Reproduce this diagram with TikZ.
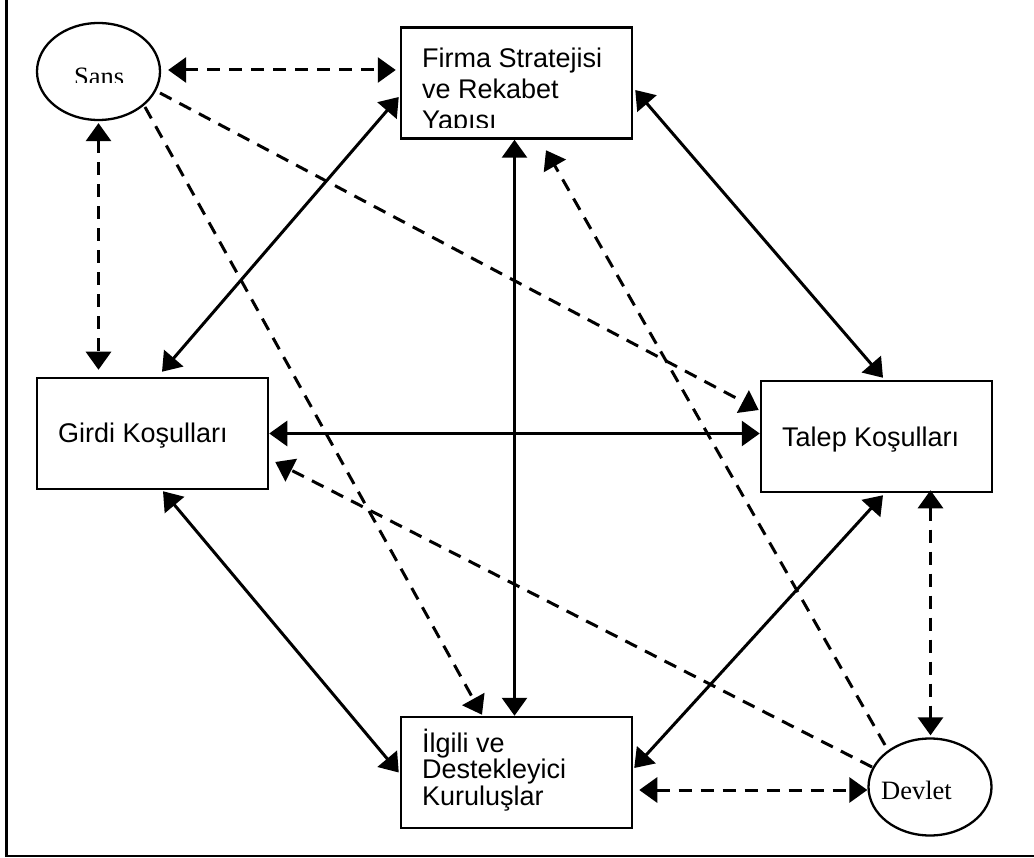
\documentclass[tikz,border=0pt]{standalone}
\usepackage{fontspec}
\usetikzlibrary{arrows.meta,shapes.geometric,calc}
\newfontfamily\arialf{Liberation Sans}
\newfontfamily\timesf{Liberation Serif}

\begin{document}
\begin{tikzpicture}[x=1pt,y=-1pt,
  box/.style={draw,line width=2.5pt,rectangle,minimum width=231pt,minimum height=111pt,inner sep=0pt},
  oval/.style={draw,line width=2.3pt,ellipse,minimum width=123pt,minimum height=97pt,inner sep=0pt},
  boxtext/.style={inner sep=0pt,anchor=base west,font=\arialf\fontsize{27}{31}\selectfont},
  ovaltext/.style={inner sep=0pt,anchor=base west,font=\timesf\fontsize{26.5}{30}\selectfont},
  tip/.tip={Triangle[length=18pt,width=25pt]},
  link/.style={line width=3pt,tip-tip},
  dlink/.style={line width=3pt,dash pattern=on 13pt off 9pt,tip-tip},
  dlinkone/.style={line width=3pt,dash pattern=on 13pt off 9pt,-tip}
]
\useasboundingbox (0,0) rectangle (1034,858);

% page frame
\draw[line width=2.5pt] (6.5,0) -- (6.5,856) -- (1034,856);

% diamond factors
\node[box] (firma)  at (516.5,83)    {};
\node[box] (girdi)  at (152.5,433.5) {};
\node[box] (talep)  at (876.5,436.5) {};
\node[box] (ilgili) at (516.5,772.5) {};

% outside influences
\node[oval] (sans)   at (98.5,71.5) {};
\node[oval] (devlet) at (930,787)   {};

% labels
\begin{scope}
  \clip (0,0) rectangle (1034,83);
  \node[ovaltext] (sanstxt) at (74,85.5) {Sans};
\end{scope}
\node[ovaltext] (devlettxt) at (881,799) {Devlet};

\node[boxtext] (firma1) at (422,68) {Firma Stratejisi};
\node[boxtext] (firma2) at (422,99) {ve Rekabet};
\begin{scope}
  \clip (0,0) rectangle (1034,128);
  \node[boxtext] (firma3) at (422,130) {Yapısı};
\end{scope}

\node[boxtext] (girditxt) at (58,443)  {Girdi Koşulları};
\node[boxtext] (taleptxt) at (782,447) {Talep Koşulları};

\node[boxtext] (ilgili1) at (422,752)   {İlgili ve};
\node[boxtext] (ilgili2) at (422,778.5) {Destekleyici};
\node[boxtext] (ilgili3) at (422,805)   {Kuruluşlar};

% solid links between the four factors
\draw[link] ($(girdi.north)+(9.5,-5)$) -- ($(firma.west)+(-1,14)$);
\draw[link] ($(firma.east)+(2,7)$) -- ($(talep.north)+(6.5,-2)$);
\draw[link] ($(firma.south)+(-2,0)$) -- ($(ilgili.north)+(-2,0)$);
\draw[link] (girdi.east) -- (talep.west |- girdi.east);
\draw[link] ($(girdi.south)+(10.5,1)$) -- ($(ilgili.west)+(-1,0)$);
\draw[link] ($(talep.south)+(6.5,2)$) -- ($(ilgili.east)+(1,-4.5)$);

% dashed links from Sans
\draw[dlink] ($(sans.east)+(7,-1.5)$) -- ($(firma.west)+(-4,-13)$);
\draw[dlink] ($(sans.south)+(0,2)$) -- ($(sans.south |- girdi.north)+(0,-7)$);
\draw[dlinkone] ($(sans.center)+(61.5,21.5)$) -- ($(talep.west)+(-1,-26.5)$);
\draw[dlinkone] ($(sans.center)+(46.5,35.5)$) -- ($(ilgili.north)+(-34.5,-1)$);

% dashed links from Devlet
\draw[dlinkone] ($(devlet.center)+(-58,-20)$) -- ($(girdi.east)+(6,28.5)$);
\draw[dlinkone] ($(devlet.center)+(-45,-42)$) -- ($(firma.south)+(29.5,10.5)$);
\draw[dlink] ($(devlet.north |- talep.south)+(0.5,-3)$) -- ($(devlet.north)+(0.5,-2)$);
\draw[dlink] ($(ilgili.east)+(6,17.5)$) -- ($(devlet.west)+(0,3)$);
\end{tikzpicture}
\end{document}
